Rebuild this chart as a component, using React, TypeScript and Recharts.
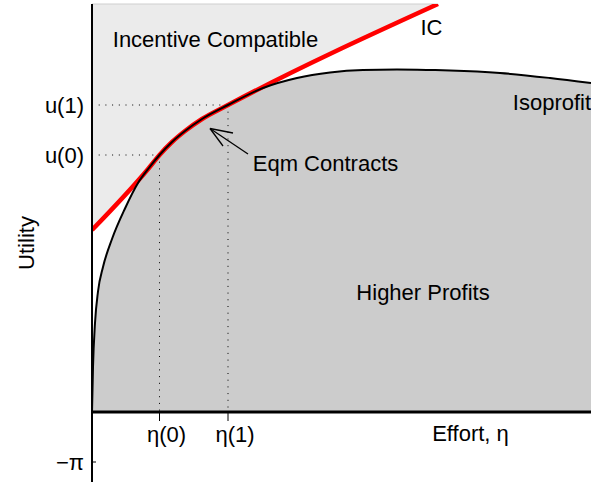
import { ComposedChart, Area, Line, XAxis, YAxis, ReferenceLine, ReferenceDot } from "recharts";

// isoprofit curve
const effort = [0, 0.02, 0.06, 0.12, 0.22, 0.4, 0.66, 0.92, 1.13, 1.35, 1.6, 1.86, 2.2, 2.72, 3.42, 4.1, 4.76, 5.42, 6.1, 6.76, 7.16, 8.16, 9.16, 9.98];
const isoprofit = [0, 0.9, 1.78, 2.41, 2.9, 3.46, 4.07, 4.58, 4.87, 5.14, 5.4, 5.62, 5.86, 6.14, 6.48, 6.68, 6.79, 6.84, 6.85, 6.84, 6.83, 6.78, 6.68, 6.58];

// incentive compatibility constraint
const icEffort = [0, 1.13, 1.35, 1.6, 1.86, 2.2, 2.72, 6.92];
const icUtility = [3.64, 4.87, 5.14, 5.4, 5.62, 5.86, 6.14, 8.16];
const topUtility = 8.16;

// contracts
const etaTicks = [1.35, 2.72];
const etaLabels = ["η(0)", "η(1)"];
const uTicks = [-1, 5.14, 6.14];
const uLabels = ["−π", "u(0)", "u(1)"];

const annotations = [
  { text: "Incentive Compatible", x: 2.47, y: 7.46 },
  { text: "IC", x: 6.79, y: 7.7 },
  { text: "Isoprofit", x: 9.2, y: 6.19 },
  { text: "Eqm Contracts", x: 4.67, y: 4.98 },
  { text: "Higher Profits", x: 6.62, y: 2.4 },
  { text: "Effort, η", x: 7.57, y: -0.43 },
];

const arrowTip = { x: 2.36, y: 5.67 };
const arrowTail = { x: 3.12, y: 5.16 };
const arrowBarbs = [{ x: 2.82, y: 5.58 }, { x: 2.62, y: 5.32 }];

const curveData = effort.map((x, i) => ({ x, u: isoprofit[i] }));
const icData = icEffort.map((x, i) => ({ x, u: icUtility[i], band: [icUtility[i], topUtility] }));

const dotted = "1 5.7";

function UtilityLabel({ viewBox }: any) {
  const x = viewBox.x + 26;
  const y = viewBox.y + viewBox.height / 2;
  return (
    <text x={x} y={y} transform={`rotate(-90 ${x} ${y})`} textAnchor="middle" dominantBaseline="central" fontSize={22} fill="#000">
      Utility
    </text>
  );
}

export default function App() {
  return (
    <div style={{ position: "absolute", left: 0, top: 0, fontFamily: "'Liberation Sans', Arial, sans-serif" }}>
      <ComposedChart width={591} height={485} margin={{ top: 4, right: 0, bottom: 3, left: 0 }}>
        <XAxis type="number" dataKey="x" domain={[0, 9.98]} hide allowDataOverflow />
        <YAxis
          type="number"
          domain={[-1.4, topUtility]}
          allowDataOverflow
          width={92}
          ticks={uTicks}
          interval={0}
          tickFormatter={(v: number) => uLabels[uTicks.indexOf(v)]}
          tickLine={false}
          axisLine={{ stroke: "#000", strokeWidth: 2 }}
          tick={{ fill: "#000", fontSize: 22 }}
          label={<UtilityLabel />}
        />
        <Area data={icData} dataKey="band" type="monotone" fill="#ebebeb" fillOpacity={1} stroke="none" isAnimationActive={false} />
        <Area data={curveData} dataKey="u" type="monotone" baseValue={0} fill="#cccccc" fillOpacity={1} stroke="none" isAnimationActive={false} />

        <ReferenceLine segment={[{ x: 0, y: topUtility }, { x: icEffort[icEffort.length - 1], y: topUtility }]} stroke="#cfcfcf" strokeWidth={1} />

        <ReferenceLine segment={[{ x: 0, y: uTicks[1] }, { x: etaTicks[0], y: uTicks[1] }]} stroke="#000" strokeDasharray={dotted} />
        <ReferenceLine segment={[{ x: etaTicks[0], y: uTicks[1] }, { x: etaTicks[0], y: 0 }]} stroke="#000" strokeDasharray={dotted} />
        <ReferenceLine segment={[{ x: 0, y: uTicks[2] }, { x: etaTicks[1], y: uTicks[2] }]} stroke="#000" strokeDasharray={dotted} />
        <ReferenceLine segment={[{ x: etaTicks[1], y: uTicks[2] }, { x: etaTicks[1], y: 0 }]} stroke="#000" strokeDasharray={dotted} />

        <Line data={icData} dataKey="u" type="monotone" stroke="#ff0000" strokeWidth={4.5} dot={false} isAnimationActive={false} />
        <Line data={curveData} dataKey="u" type="monotone" stroke="#000" strokeWidth={2} dot={false} isAnimationActive={false} />

        <ReferenceLine y={0} stroke="#000" strokeWidth={3} />
        <ReferenceLine segment={[{ x: 0, y: uTicks[0] }, { x: 0.08, y: uTicks[0] }]} stroke="#000" strokeWidth={1} />
        {etaTicks.map((t, i) => (
          <ReferenceLine
            key={etaLabels[i]}
            segment={[{ x: t, y: 0 }, { x: t, y: -0.18 }]}
            stroke="#000"
            strokeWidth={1}
          />
        ))}
        {etaTicks.map((t, i) => (
          <ReferenceDot
            key={"l" + etaLabels[i]}
            x={t}
            y={-0.44}
            r={0}
            stroke="none"
            label={{ value: etaLabels[i], position: "center", fill: "#000", fontSize: 22, dx: 7 }}
          />
        ))}

        <ReferenceLine segment={[arrowTail, arrowTip]} stroke="#000" strokeWidth={1.3} />
        {arrowBarbs.map((b, i) => (
          <ReferenceLine key={"b" + i} segment={[arrowTip, b]} stroke="#000" strokeWidth={1.3} />
        ))}

        {annotations.map((a) => (
          <ReferenceDot
            key={a.text}
            x={a.x}
            y={a.y}
            r={0}
            stroke="none"
            label={{ value: a.text, position: "center", fill: "#000", fontSize: 22 }}
          />
        ))}
      </ComposedChart>
    </div>
  );
}
